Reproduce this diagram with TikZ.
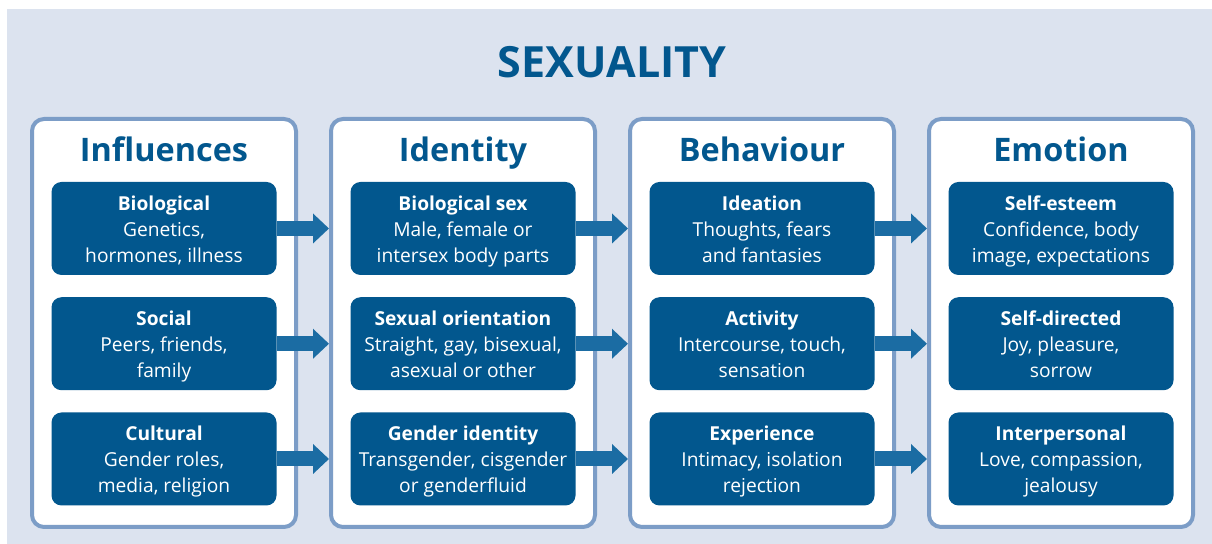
\documentclass[tikz,border=0pt]{standalone}
\usepackage{fontspec}
\setmainfont{Open Sans}
\usetikzlibrary{arrows.meta}
\definecolor{nenxanh}{HTML}{DCE3EF}
\definecolor{vienxanh}{HTML}{7C9DC7}
\definecolor{hopxanh}{HTML}{02578E}
\definecolor{muixanh}{HTML}{1B6CA3}
\tikzset{
	tieude/.style={text=hopxanh,anchor=base,font=\fontsize{21.5}{24}\selectfont\bfseries},
	khung/.style={draw=vienxanh,fill=white,line width=2pt,rounded corners=6pt,
		minimum width=132pt,minimum height=204pt,inner sep=0pt},
	dau/.style={text=hopxanh,anchor=base,font=\fontsize{16.2}{19}\selectfont\bfseries},
	hop/.style={fill=hopxanh,rounded corners=5pt,
		minimum width=112.5pt,minimum height=46.5pt,inner sep=0pt},
	chu/.style={text=white,align=center,inner sep=0pt,font=\fontsize{9.6}{13}\selectfont},
	muiten/.style={draw=muixanh,line width=7.5pt,-{Triangle[length=8pt,width=14.5pt]}}
}
\begin{document}
\begin{tikzpicture}[x=0.5pt,y=-0.5pt]
	\def\w{299}%khoang cach cot
	\def\d{115.25}%khoang cach hang
	\useasboundingbox (0,0) rectangle (1212,544);
	\fill[nenxanh] (7,9) rectangle (1212,544);
	\node[tieude] (tieu) at (612,78) {SEXUALITY};
	%bon khung
	\foreach \i/\ten in {0/Influences,1/Identity,2/Behaviour,3/Emotion}{
		\node[khung] (k\i) at ({164+\i*\w},323) {};
		\node[dau] (d\i) at ({164+\i*\w},162) {\ten};
	}
	%cac hop
	\foreach \i/\j/\t/\a/\b in {
		0/0/Biological/{Genetics,}/{hormones, illness},
		0/1/Social/{Peers, friends,}/family,
		0/2/Cultural/{Gender roles,}/{media, religion},
		1/0/Biological sex/{Male, female or}/intersex body parts,
		1/1/Sexual orientation/{Straight, gay, bisexual,}/asexual or other,
		1/2/Gender identity/{Transgender, cisgender}/or genderfluid,
		2/0/Ideation/{Thoughts, fears}/and fantasies,
		2/1/Activity/{Intercourse, touch,}/sensation,
		2/2/Experience/{Intimacy, isolation}/rejection,
		3/0/Self-esteem/{Confidence, body}/{image, expectations},
		3/1/Self-directed/{Joy, pleasure,}/sorrow,
		3/2/Interpersonal/{Love, compassion,}/jealousy}{
		\node[hop] (h\i\j) at ({164+\i*\w},{228.5+\j*\d}) {};
		\node[chu] (c\i\j) at ([yshift=-1.25pt]h\i\j.center) {\textbf{\strut\t}\\\a\\\b\strut};
	}
	%mui ten
	\foreach \i in {0,1,2}{
		\pgfmathtruncatemacro{\k}{\i+1}
		\foreach \j in {0,1,2}
			\draw[muiten] (h\i\j.east) -- (h\i\j.east -| k\k.west);
	}
\end{tikzpicture}
\end{document}
